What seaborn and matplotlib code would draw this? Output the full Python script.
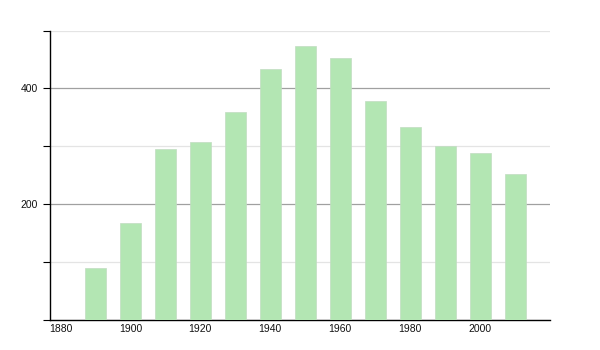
import matplotlib
matplotlib.use("Agg")
import matplotlib.pyplot as plt
import seaborn as sns
import pandas as pd
from matplotlib.ticker import MultipleLocator

years = [1890, 1900, 1910, 1920, 1930, 1940, 1950, 1960, 1970, 1980, 1990, 2000, 2010]
population = [89, 168, 295, 307, 359, 434, 474, 452, 378, 334, 300, 288, 253]
x_ticks = [1880, 1900, 1920, 1940, 1960, 1980, 2000]
y_ticks = [200, 400]

sns.set_style("white")
plt.rcParams['font.family'] = ['Liberation Sans', 'DejaVu Sans']

df = pd.DataFrame({"year": years, "pop": population})

fig = plt.figure(figsize=(6, 3.5), dpi=100)
ax = fig.add_axes([50/600, 1 - 320/350, 500/600, (320 - 30.5)/350])

sns.barplot(data=df, x="year", y="pop", native_scale=True, width=0.6,
            color="#b3e6b3", saturation=1, edgecolor="#c2dcc2", linewidth=0.5,
            ax=ax, zorder=3)

ax.set_xlim(1877, 2020)
ax.set_ylim(0, 500)
ax.set_xticks(x_ticks)
ax.set_xticklabels([str(t) for t in x_ticks])
ax.set_yticks(y_ticks)
ax.set_yticklabels([str(t) for t in y_ticks])
ax.yaxis.set_minor_locator(MultipleLocator(100))

ax.grid(axis="y", which="major", color="#a0a0a0", linewidth=0.9, zorder=0)
ax.grid(axis="y", which="minor", color="#e4e4e4", linewidth=0.9, zorder=0)
ax.set_axisbelow(True)

for s in ["top", "right"]:
    ax.spines[s].set_visible(False)
for s in ["left", "bottom"]:
    ax.spines[s].set_color("black")
    ax.spines[s].set_linewidth(1.0)

ax.tick_params(axis="y", which="both", direction="out", length=5, width=0.8,
               color="black", labelsize=7.5, left=True, labelcolor="#111111")
ax.tick_params(axis="x", which="both", length=0, labelsize=7.5, pad=3,
               labelcolor="#111111")
ax.set_xlabel("")
ax.set_ylabel("")

fig.savefig("out.png", dpi=100)
